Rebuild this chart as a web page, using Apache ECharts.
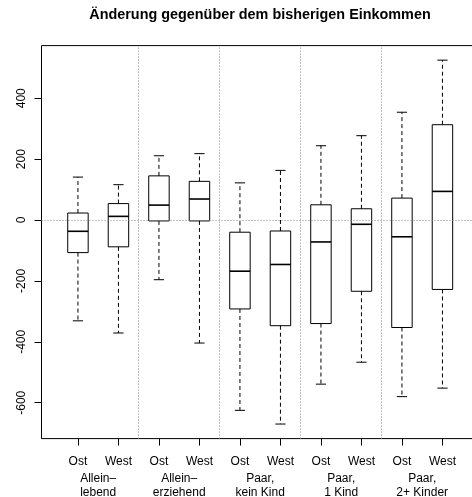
<!DOCTYPE html>
<html><head><meta charset="utf-8">
<script src="https://cdn.jsdelivr.net/npm/echarts@6/dist/echarts.min.js"></script>
<style>html,body{margin:0;padding:0;background:#fff}#c{width:472px;height:497px}</style>
</head><body><div id="c"></div>
<script>
const titleText = 'Änderung gegenüber dem bisherigen Einkommen';
const groups = ['Allein–\nlebend', 'Allein–\nerziehend', 'Paar,\nkein Kind', 'Paar,\n1 Kind', 'Paar,\n2+ Kinder'];
const regions = ['Ost', 'West', 'Ost', 'West', 'Ost', 'West', 'Ost', 'West', 'Ost', 'West'];
const whiskerLow  = [-331, -371, -196, -404, -625, -670, -539, -467, -580, -552];
const q1          = [-107,  -88,   -3,   -3, -292, -347, -340, -234, -353, -228];
const median      = [ -37,   12,   49,   69, -168, -146,  -72,  -14,  -55,   94];
const q3          = [  23,   54,  145,  127,  -40,  -36,   50,   37,   72,  313];
const whiskerHigh = [ 141,  116,  211,  218,  122,  163,  244,  277,  354,  525];
const yTicks = [-600, -400, -200, 0, 200, 400];

const FONT = 'Liberation Sans, Arial, Helvetica, sans-serif';
const n = regions.length;
const positions = regions.map((_, i) => i + 1);
const groupPos = groups.map((_, g) => 2 * g + 1.5);
const separators = groups.slice(1).map((_, g) => 2 * g + 2.5);
const dMin = Math.min(...whiskerLow), dMax = Math.max(...whiskerHigh);
const yPad = (dMax - dMin) * 0.04;
const xPad = n * 0.04;

const data = positions.map((p, i) => [p, whiskerLow[i], q1[i], median[i], q3[i], whiskerHigh[i]]);

const chart = echarts.init(document.getElementById('c'), null, {renderer: 'canvas'});
chart.setOption({
  animation: false,
  backgroundColor: '#fff',
  graphic: [{
    type: 'text', x: 260, y: 15,
    style: {text: titleText, align: 'center', verticalAlign: 'middle',
            font: 'bold 14.4px ' + FONT, fill: '#000'}
  }],
  grid: {left: 41.5, top: 45.6, width: 437.4, height: 393, show: true,
         borderColor: '#000', borderWidth: 1, backgroundColor: 'transparent',
         outerBoundsMode: 'none', containLabel: false},
  xAxis: [{
    type: 'value', min: 0.5 - xPad, max: n + 0.5 + xPad,
    axisLine: {show: false, onZero: false}, splitLine: {show: false},
    axisTick: {show: true, customValues: positions, length: 7, lineStyle: {color: '#000', width: 1}},
    axisLabel: {customValues: positions, margin: 17, color: '#000', fontSize: 12, fontFamily: FONT,
                formatter: v => regions[Math.round(v) - 1]}
  }, {
    type: 'value', position: 'bottom', min: 0.5 - xPad, max: n + 0.5 + xPad,
    axisLine: {show: false, onZero: false}, splitLine: {show: false}, axisTick: {show: false},
    axisLabel: {customValues: groupPos, margin: 33, color: '#000', fontSize: 12, fontFamily: FONT,
                lineHeight: 14, align: 'center',
                formatter: v => groups[Math.round((v - 1.5) / 2)]}
  }],
  yAxis: {
    type: 'value', min: dMin - yPad, max: dMax + yPad,
    axisLine: {show: false, onZero: false}, splitLine: {show: false},
    axisTick: {show: true, customValues: yTicks, length: 7, lineStyle: {color: '#000', width: 1}},
    axisLabel: {customValues: yTicks, rotate: 90, margin: 14, color: '#000', fontSize: 12, fontFamily: FONT}
  },
  series: [{
    type: 'custom',
    xAxisIndex: 0, yAxisIndex: 0,
    data: data,
    encode: {x: 0, y: [1, 2, 3, 4, 5]},
    clip: false,
    renderItem: function (params, api) {
      const x = api.value(0);
      const lo = api.coord([x, api.value(1)]);
      const b1 = api.coord([x, api.value(2)]);
      const md = api.coord([x, api.value(3)]);
      const b3 = api.coord([x, api.value(4)]);
      const hi = api.coord([x, api.value(5)]);
      const unit = api.size([1, 0])[0];
      const bw = unit * 0.505, cw = bw * 0.5;
      const cx = lo[0];
      const solid = {stroke: '#000', lineWidth: 1, fill: null};
      const dashed = {stroke: '#000', lineWidth: 1, lineDash: [4, 3], fill: null};
      return {type: 'group', children: [
        {type: 'line', shape: {x1: cx, y1: b3[1], x2: cx, y2: hi[1]}, style: dashed},
        {type: 'line', shape: {x1: cx, y1: b1[1], x2: cx, y2: lo[1]}, style: dashed},
        {type: 'line', shape: {x1: cx - cw / 2, y1: hi[1], x2: cx + cw / 2, y2: hi[1]}, style: solid},
        {type: 'line', shape: {x1: cx - cw / 2, y1: lo[1], x2: cx + cw / 2, y2: lo[1]}, style: solid},
        {type: 'rect', shape: {x: cx - bw / 2, y: b3[1], width: bw, height: b1[1] - b3[1]},
         style: {stroke: '#000', lineWidth: 1, fill: 'rgba(0,0,0,0)'}},
        {type: 'line', shape: {x1: cx - bw / 2, y1: md[1], x2: cx + bw / 2, y2: md[1]},
         style: {stroke: '#000', lineWidth: 1.6}}
      ]};
    },
    markLine: {
      silent: true, symbol: 'none', label: {show: false},
      lineStyle: {color: '#888', type: [1, 2], width: 1},
      emphasis: {disabled: true},
      data: separators.map(s => ({xAxis: s})).concat([{yAxis: 0}])
    }
  }]
});
</script></body></html>
